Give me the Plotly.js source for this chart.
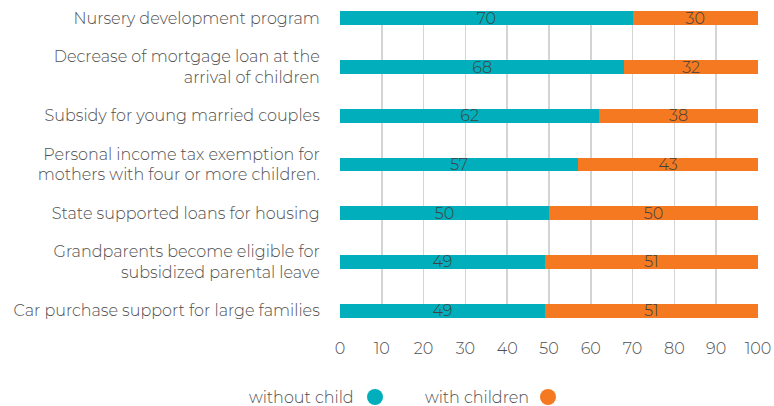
<!DOCTYPE html>
<html>
<head>
<meta charset="utf-8">
<script src="https://cdn.plot.ly/plotly-3.0.1.min.js"></script>
<style>html,body{margin:0;padding:0;background:#fff;}#chart{width:774px;height:406px;}</style>
</head>
<body>
<div id="chart"></div>
<script>
var categories = [
  "Nursery development program",
  "Decrease of mortgage loan at the<br>arrival of children",
  "Subsidy for young married couples",
  "Personal income tax exemption for<br>mothers with four or more children.",
  "State supported loans for housing",
  "Grandparents become eligible for<br>subsidized parental leave",
  "Car purchase support for large families"
];
var withoutChild = [70, 68, 62, 57, 50, 49, 49];
var withChildren = [30, 32, 38, 43, 50, 51, 51];
var seriesNames = ["without child", "with children"];
var xTicks = [0, 10, 20, 30, 40, 50, 60, 70, 80, 90, 100];

var teal = "#00AFBB", orange = "#F47920";
var FONT = "Montserrat, 'Open Sans', Lato, sans-serif";
var textCol = "#505050";

function bar(vals, name, color) {
  return {
    type: "bar", orientation: "h", name: name,
    y: categories, x: vals,
    marker: {color: color},
    text: vals.map(String), textposition: "inside", insidetextanchor: "middle",
    textangle: 0, constraintext: "none",
    textfont: {family: FONT, size: 16, color: "#404040", weight: 300},
    cliponaxis: false, hoverinfo: "x+y+name", showlegend: false
  };
}

var data = [bar(withoutChild, seriesNames[0], teal), bar(withChildren, seriesNames[1], orange)];

var legY = -(397-318)/307;
var layout = {
  width: 774, height: 406,
  margin: {l: 340, r: 16, t: 11, b: 88},
  barmode: "stack", bargap: 0.713,
  paper_bgcolor: "#fff", plot_bgcolor: "#fff",
  font: {family: FONT, size: 16, color: textCol, weight: 300},
  xaxis: {
    range: [0, 100], tickvals: xTicks, ticktext: xTicks.map(String),
    showgrid: true, gridcolor: "#d4d4d4", gridwidth: 1.5, zeroline: false,
    ticks: "outside", ticklen: 16, tickcolor: "rgba(0,0,0,0)",
    tickfont: {family: FONT, size: 16, color: textCol, weight: 300},
    fixedrange: true
  },
  yaxis: {
    type: "category", categoryorder: "array", categoryarray: categories,
    range: [6.15, -0.15], showgrid: false, zeroline: false,
    ticks: "outside", ticklen: 16, tickcolor: "rgba(0,0,0,0)",
    tickfont: {family: FONT, size: 16, color: textCol, weight: 300},
    fixedrange: true
  },
  showlegend: false,
  annotations: [
    {xref: "paper", yref: "paper", x: (356-340)/418, y: legY, xanchor: "right", yanchor: "middle",
     text: seriesNames[0], showarrow: false, font: {family: FONT, size: 16, color: textCol, weight: 300}},
    {xref: "paper", yref: "paper", x: (531-340)/418, y: legY, xanchor: "right", yanchor: "middle",
     text: seriesNames[1], showarrow: false, font: {family: FONT, size: 16, color: textCol, weight: 300}}
  ],
  shapes: [
    {type: "circle", xref: "paper", yref: "paper", xsizemode: "pixel", ysizemode: "pixel",
     xanchor: (375-340)/418, yanchor: legY, x0: -8, x1: 8, y0: -8, y1: 8,
     fillcolor: teal, line: {width: 0}},
    {type: "circle", xref: "paper", yref: "paper", xsizemode: "pixel", ysizemode: "pixel",
     xanchor: (548-340)/418, yanchor: legY, x0: -8, x1: 8, y0: -8, y1: 8,
     fillcolor: orange, line: {width: 0}}
  ]
};

Plotly.newPlot("chart", data, layout, {displayModeBar: false, staticPlot: true});
</script>
</body>
</html>
